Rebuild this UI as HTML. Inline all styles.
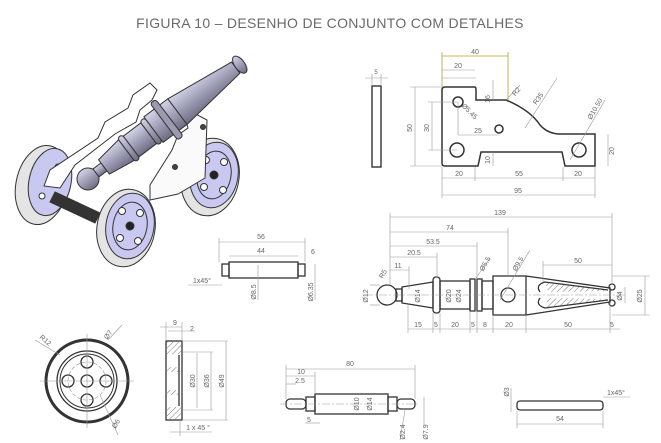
<!DOCTYPE html>
<html><head><meta charset="utf-8"><style>
html,body{margin:0;padding:0;background:#fff}
svg{display:block}
text{font-family:"Liberation Sans",sans-serif}
</style></head><body>
<svg width="661" height="443" viewBox="0 0 661 443" xmlns="http://www.w3.org/2000/svg">
<defs>
<linearGradient id="bar" x1="0" y1="0" x2="0" y2="1">
<stop offset="0" stop-color="#d4d4e8"/><stop offset="0.45" stop-color="#a4a4bc"/><stop offset="1" stop-color="#6c6c82"/></linearGradient>
<pattern id="hat" width="4" height="4" patternUnits="userSpaceOnUse" patternTransform="rotate(45)"><line x1="0" y1="0" x2="0" y2="4" stroke="#555" stroke-width="0.8"/></pattern>
</defs>
<text x="330" y="28" font-size="14" fill="#6a6a6a" text-anchor="middle" letter-spacing="0.3">FIGURA 10 – DESENHO DE CONJUNTO COM DETALHES</text>

<!-- ISOMETRIC CANNON -->
<g stroke="#333" stroke-width="1">
<!-- back left wheel -->
<ellipse cx="42" cy="185" rx="26" ry="40" fill="#e4e4e4" transform="rotate(12 42 185)"/>
<ellipse cx="50" cy="182" rx="21" ry="34" fill="#c8c8f0" transform="rotate(12 50 182)"/>
<circle cx="58" cy="167" r="3" fill="#fff"/><circle cx="42" cy="196" r="3" fill="#fff"/>
<!-- left plate -->
<path d="M44 186 L50 170 L98 138 L105 122 L128 108 L133 95 L150 83 L157 90 L152 100 L140 110 L136 122 L115 134 L75 165 L60 188 Z" fill="#fff"/>
<!-- right wheel back -->
<ellipse cx="210" cy="177" rx="29" ry="39" fill="#e4e4e4" transform="rotate(10 210 177)"/>
<ellipse cx="214" cy="175" rx="24" ry="33" fill="#c8c8f0" transform="rotate(10 214 175)"/>
<ellipse cx="214" cy="175" rx="17" ry="24" fill="none" transform="rotate(10 214 175)"/>
<circle cx="214" cy="175" r="4" fill="#222"/>
<circle cx="206" cy="160" r="3.5" fill="#fff"/><circle cx="224" cy="162" r="3.5" fill="#fff"/><circle cx="204" cy="187" r="3.5" fill="#fff"/><circle cx="223" cy="190" r="3.5" fill="#fff"/>
<!-- right plate -->
<path d="M150 200 L178 194 L205 178 L207 120 L192 112 L185 118 L188 128 L178 135 L172 150 L150 185 Z" fill="#fafafa"/>
<circle cx="175" cy="167" r="2.5" fill="#444"/><circle cx="203" cy="127" r="2.5" fill="#444"/>
<!-- axle -->
<path d="M55 192 L100 213 L95 223 L50 202 Z" fill="#333"/>
<!-- barrel -->
<g transform="translate(88 179) rotate(-37)">
<circle cx="0" cy="0" r="11" fill="url(#bar)"/>
<rect x="10" y="-5" width="10" height="10" fill="url(#bar)"/>
<path d="M20 -9 L48 -13 L48 13 L20 9 Z" fill="url(#bar)"/>
<rect x="48" y="-15" width="6" height="30" rx="3" fill="url(#bar)"/>
<rect x="54" y="-13" width="22" height="26" fill="url(#bar)"/>
<rect x="76" y="-15" width="6" height="30" rx="3" fill="url(#bar)"/>
<rect x="82" y="-16" width="30" height="32" fill="url(#bar)"/>
<path d="M112 -16 L185 -7 L185 7 L112 16 Z" fill="url(#bar)"/>
<ellipse cx="190" cy="0" rx="5" ry="10" fill="url(#bar)"/>
<rect x="95" y="-23" width="7" height="46" rx="3" fill="#9a9ab0"/>
</g>
<!-- front left wheel -->
<ellipse cx="126" cy="228" rx="29" ry="39" fill="#e4e4e4" transform="rotate(10 126 228)"/>
<ellipse cx="130" cy="226" rx="24" ry="33" fill="#c8c8f0" transform="rotate(10 130 226)"/>
<ellipse cx="130" cy="226" rx="17" ry="24" fill="none" transform="rotate(10 130 226)"/>
<circle cx="130" cy="226" r="4" fill="#222"/>
<circle cx="122" cy="211" r="3.5" fill="#fff"/><circle cx="140" cy="213" r="3.5" fill="#fff"/><circle cx="120" cy="238" r="3.5" fill="#fff"/><circle cx="138" cy="241" r="3.5" fill="#fff"/>
</g>

<!-- SIDE STRIP -->
<g stroke="#333" fill="none" stroke-width="1.4">
<rect x="372" y="86" width="9" height="81"/>
</g>
<g stroke="#999" stroke-width="0.6" fill="none">
<line x1="365" y1="78" x2="388" y2="78"/><line x1="372" y1="74" x2="372" y2="86"/><line x1="381" y1="74" x2="381" y2="86"/>
</g>
<text x="376" y="74" font-size="6" fill="#666" text-anchor="middle">5</text>

<!-- SIDE PLATE -->
<g stroke="#333" fill="none" stroke-width="1.5">
<path d="M445 87 L475 87 Q476 87 476 90 L476 100 L506 100 Q530 110 540 125 Q548 134 560 134 L595 134 L595 166 L565 166 L562 152 L481 152 L478 166 L445 166 Q442 166 442 163 L442 90 Q442 87 445 87 Z"/>
<circle cx="458" cy="102" r="5"/><circle cx="457" cy="150" r="7"/><circle cx="499" cy="129" r="4"/><circle cx="579" cy="150" r="7"/>
</g>
<g stroke="#999" stroke-width="0.6" fill="none">
<line x1="442" y1="195" x2="595" y2="195"/><line x1="442" y1="178" x2="595" y2="178"/>
<line x1="442" y1="167" x2="442" y2="198"/><line x1="595" y1="167" x2="595" y2="198"/><line x1="475" y1="167" x2="475" y2="181"/><line x1="563" y1="167" x2="563" y2="181"/>
<line x1="415" y1="87" x2="415" y2="166"/><line x1="410" y1="87" x2="442" y2="87"/><line x1="410" y1="166" x2="442" y2="166"/>
<line x1="432" y1="102" x2="432" y2="150"/><line x1="428" y1="102" x2="458" y2="102"/><line x1="428" y1="150" x2="457" y2="150"/>
<line x1="442" y1="70" x2="475" y2="70"/><line x1="442" y1="78" x2="476" y2="78"/>
<line x1="493" y1="80" x2="493" y2="100"/><line x1="493" y1="152" x2="493" y2="166"/>
<line x1="608" y1="134" x2="608" y2="166"/>
<line x1="458" y1="102" x2="458" y2="135"/><line x1="458" y1="135" x2="499" y2="135"/>
<line x1="525" y1="128" x2="557" y2="78"/><line x1="570" y1="160" x2="605" y2="100"/>
<line x1="506" y1="100" x2="520" y2="85"/>
</g>
<g stroke="#a8a830" stroke-width="0.8" fill="none">
<line x1="442" y1="56" x2="508" y2="56"/><line x1="442" y1="52" x2="442" y2="87"/><line x1="508" y1="52" x2="508" y2="100"/>
</g>
<g font-size="7" fill="#666" text-anchor="middle">
<text x="475" y="54">40</text><text x="458" y="68">20</text><text x="459" y="176">20</text><text x="519" y="176">55</text><text x="578" y="176">20</text><text x="518" y="193">95</text>
<text x="412" y="128" transform="rotate(-90 412 128)">50</text><text x="429" y="128" transform="rotate(-90 429 128)">30</text>
<text x="478" y="133">25</text><text x="490" y="99" transform="rotate(-90 490 99)">16</text><text x="490" y="160" transform="rotate(-90 490 160)">10</text>
<text x="614" y="151" transform="rotate(-90 614 151)">20</text>
<text x="518" y="93" transform="rotate(-50 518 93)">R2</text><text x="540" y="100" transform="rotate(-55 540 100)">R35</text>
<text x="597" y="110" transform="rotate(-60 597 110)">Ø10.50</text><text x="468" y="113" transform="rotate(45 468 113)">Ø5.45</text>
</g>

<!-- SMALL SHAFT -->
<g stroke="#333" fill="none" stroke-width="1.3">
<rect x="222" y="264" width="7" height="12"/><rect x="229" y="262" width="69" height="16"/><rect x="298" y="264" width="7" height="12"/>
</g>
<g stroke="#999" stroke-width="0.6" fill="none">
<line x1="219" y1="242" x2="305" y2="242"/><line x1="229" y1="256" x2="298" y2="256"/>
<line x1="219" y1="238" x2="219" y2="262"/><line x1="305" y1="238" x2="305" y2="262"/>
<line x1="258" y1="265" x2="258" y2="300"/><line x1="315" y1="264" x2="315" y2="300"/>
<line x1="188" y1="285" x2="222" y2="285"/>
</g>
<g font-size="7" fill="#666" text-anchor="middle">
<text x="261" y="239">56</text><text x="261" y="253">44</text><text x="313" y="254">6</text>
<text x="202" y="283">1x45°</text>
<text x="256" y="292" transform="rotate(-90 256 292)">Ø8.5</text><text x="313" y="292" transform="rotate(-90 313 292)">Ø6.35</text>
</g>

<!-- BARREL SECTION -->
<g stroke="#333" fill="none" stroke-width="1.3">
<circle cx="387" cy="295" r="10"/>
<rect x="396" y="289" width="6" height="12"/>
<path d="M402 287 L433 282 L433 308 L402 303 Z"/>
<rect x="433" y="277" width="7" height="36" rx="3"/>
<rect x="440" y="281" width="30" height="28"/>
<rect x="470" y="279" width="5" height="32"/><rect x="477" y="279" width="5" height="32"/>
<rect x="482" y="281" width="11" height="28"/>
<rect x="493" y="276" width="33" height="39"/>
<circle cx="508" cy="295" r="7"/>
<path d="M526 276 L610 288 L610 302 L526 315"/>
<path d="M540 292 Q535 285 545 282 L608 290 M540 298 Q535 305 545 308 L608 300"/>
<circle cx="612" cy="287" r="3"/><circle cx="612" cy="303" r="3"/>
</g>
<path d="M545 282 L608 290 L608 291 L548 292 Z M545 308 L608 300 L608 299 L548 298 Z" fill="url(#hat)" stroke="none"/>
<line x1="365" y1="295" x2="625" y2="295" stroke="#999" stroke-width="0.6" stroke-dasharray="8 2 2 2"/>
<g stroke="#999" stroke-width="0.6" fill="none">
<line x1="390" y1="217" x2="612" y2="217"/><line x1="390" y1="232" x2="508" y2="232"/><line x1="390" y1="246" x2="477" y2="246"/><line x1="390" y1="257" x2="437" y2="257"/><line x1="390" y1="270" x2="409" y2="270"/>
<line x1="390" y1="213" x2="390" y2="285"/><line x1="612" y1="213" x2="612" y2="285"/><line x1="508" y1="228" x2="508" y2="276"/><line x1="477" y1="242" x2="477" y2="279"/><line x1="437" y1="253" x2="437" y2="277"/><line x1="409" y1="266" x2="409" y2="289"/>
<line x1="543" y1="265" x2="612" y2="265"/><line x1="543" y1="261" x2="543" y2="282"/>
<line x1="408" y1="329" x2="620" y2="329"/>
<line x1="408" y1="305" x2="408" y2="333"/><line x1="433" y1="313" x2="433" y2="333"/><line x1="440" y1="313" x2="440" y2="333"/><line x1="470" y1="311" x2="470" y2="333"/><line x1="477" y1="311" x2="477" y2="333"/><line x1="493" y1="315" x2="493" y2="333"/><line x1="526" y1="315" x2="526" y2="333"/><line x1="610" y1="303" x2="610" y2="333"/>
<line x1="645" y1="276" x2="645" y2="315"/><line x1="612" y1="276" x2="650" y2="276"/><line x1="612" y1="315" x2="650" y2="315"/>
<line x1="625" y1="287" x2="625" y2="303"/>
<line x1="370" y1="285" x2="380" y2="285"/><line x1="370" y1="305" x2="380" y2="305"/>
<line x1="500" y1="300" x2="530" y2="250"/><line x1="476" y1="278" x2="490" y2="258"/>
</g>
<g font-size="7" fill="#666" text-anchor="middle">
<text x="500" y="215">139</text><text x="450" y="230">74</text><text x="433" y="244">53.5</text><text x="414" y="255">20.5</text><text x="398" y="268">11</text><text x="578" y="263">50</text>
<text x="418" y="327">15</text><text x="436" y="327">5</text><text x="455" y="327">20</text><text x="473" y="327">5</text><text x="485" y="327">8</text><text x="509" y="327">20</text><text x="568" y="327">50</text><text x="612" y="327">5</text>
<text x="368" y="296" transform="rotate(-90 368 296)">Ø12</text><text x="420" y="296" transform="rotate(-90 420 296)">Ø14</text><text x="451" y="296" transform="rotate(-90 451 296)">Ø20</text><text x="461" y="296" transform="rotate(-90 461 296)">Ø24</text>
<text x="642" y="296" transform="rotate(-90 642 296)">Ø25</text><text x="622" y="296" transform="rotate(-90 622 296)">Ø4</text>
<text x="520" y="265" transform="rotate(-60 520 265)">Ø9.5</text><text x="487" y="265" transform="rotate(-60 487 265)">Ø5.5</text><text x="385" y="275" transform="rotate(-60 385 275)">R5</text>
</g>

<!-- WHEEL FRONT -->
<g stroke="#333" fill="none">
<circle cx="87" cy="381" r="41" stroke-width="3"/>
<circle cx="87" cy="381" r="30" stroke-width="1.3"/><circle cx="87" cy="381" r="27" stroke-width="1"/>
<circle cx="87" cy="381" r="6" stroke-width="1.3"/>
<circle cx="87" cy="362" r="6" stroke-width="1.3"/><circle cx="87" cy="400" r="6" stroke-width="1.3"/><circle cx="68" cy="381" r="6" stroke-width="1.3"/><circle cx="106" cy="381" r="6" stroke-width="1.3"/>
</g>
<g stroke="#999" stroke-width="0.6" fill="none">
<circle cx="87" cy="381" r="19" stroke-dasharray="4 2"/>
<line x1="40" y1="381" x2="134" y2="381"/><line x1="87" y1="334" x2="87" y2="428"/>
<line x1="35" y1="340" x2="60" y2="355"/><line x1="108" y1="340" x2="122" y2="325"/><line x1="100" y1="395" x2="118" y2="435"/>
</g>
<g font-size="7" fill="#666" text-anchor="middle">
<text x="44" y="342" transform="rotate(40 44 342)">R12</text><text x="110" y="336" transform="rotate(-55 110 336)">Ø7</text><text x="118" y="425" transform="rotate(-60 118 425)">Ø6</text>
</g>
<!-- wheel section -->
<g stroke="#333" fill="none" stroke-width="1.3">
<rect x="166" y="341" width="16" height="79"/>
<line x1="179" y1="355" x2="179" y2="406"/>
</g>
<rect x="167" y="342" width="14" height="12" fill="url(#hat)"/><rect x="167" y="407" width="14" height="12" fill="url(#hat)"/>
<rect x="167" y="367" width="12" height="5" fill="url(#hat)"/><rect x="167" y="390" width="12" height="5" fill="url(#hat)"/>
<g stroke="#999" stroke-width="0.6" fill="none">
<line x1="160" y1="327" x2="182" y2="327"/><line x1="168" y1="331" x2="195" y2="331"/><line x1="166" y1="322" x2="166" y2="341"/><line x1="182" y1="322" x2="182" y2="341"/>
<line x1="197" y1="353" x2="197" y2="408"/><line x1="211" y1="352" x2="211" y2="410"/><line x1="226" y1="341" x2="226" y2="420"/>
<line x1="182" y1="341" x2="228" y2="341"/><line x1="182" y1="420" x2="228" y2="420"/><line x1="182" y1="352" x2="213" y2="352"/><line x1="182" y1="410" x2="213" y2="410"/>
<line x1="170" y1="432" x2="212" y2="432"/><line x1="180" y1="420" x2="180" y2="436"/>
</g>
<g font-size="7" fill="#666" text-anchor="middle">
<text x="175" y="325">9</text><text x="192" y="331">2</text>
<text x="195" y="381" transform="rotate(-90 195 381)">Ø30</text><text x="209" y="381" transform="rotate(-90 209 381)">Ø36</text><text x="224" y="381" transform="rotate(-90 224 381)">Ø49</text>
<text x="198" y="430">1 x 45 °</text>
</g>

<!-- AXLE -->
<g stroke="#333" fill="none" stroke-width="1.3">
<rect x="286" y="399" width="20" height="10" rx="4"/><rect x="306" y="397" width="9" height="14"/><rect x="315" y="394" width="73" height="20"/><rect x="388" y="397" width="9" height="14"/><rect x="397" y="399" width="18" height="10" rx="4"/>
</g>
<line x1="280" y1="404" x2="420" y2="404" stroke="#999" stroke-width="0.6" stroke-dasharray="8 2 2 2"/>
<g stroke="#999" stroke-width="0.6" fill="none">
<line x1="286" y1="369" x2="415" y2="369"/><line x1="286" y1="376" x2="315" y2="376"/><line x1="286" y1="384" x2="296" y2="384"/>
<line x1="286" y1="365" x2="286" y2="399"/><line x1="415" y1="365" x2="415" y2="399"/><line x1="315" y1="372" x2="315" y2="394"/>
<line x1="305" y1="423" x2="320" y2="423"/><line x1="424" y1="397" x2="424" y2="425"/><line x1="405" y1="410" x2="400" y2="440"/>
</g>
<g font-size="7" fill="#666" text-anchor="middle">
<text x="350" y="366">80</text><text x="301" y="374">10</text><text x="300" y="383">2.5</text><text x="309" y="422">5</text>
<text x="359" y="404" transform="rotate(-90 359 404)">Ø10</text><text x="372" y="404" transform="rotate(-90 372 404)">Ø14</text>
<text x="405" y="432" transform="rotate(-90 405 432)">Ø2.4</text><text x="428" y="432" transform="rotate(-90 428 432)">Ø7.9</text>
</g>

<!-- PIN -->
<rect x="517" y="401" width="86" height="9" rx="3" fill="none" stroke="#333" stroke-width="1.3"/>
<g stroke="#999" stroke-width="0.6" fill="none">
<line x1="517" y1="424" x2="603" y2="424"/><line x1="517" y1="411" x2="517" y2="428"/><line x1="603" y1="411" x2="603" y2="428"/>
<line x1="511" y1="388" x2="511" y2="412"/><line x1="603" y1="397" x2="630" y2="397"/>
</g>
<g font-size="7" fill="#666" text-anchor="middle">
<text x="560" y="421">54</text><text x="509" y="392" transform="rotate(-90 509 392)">Ø3</text><text x="616" y="395">1x45°</text>
</g>
</svg>
</body></html>
